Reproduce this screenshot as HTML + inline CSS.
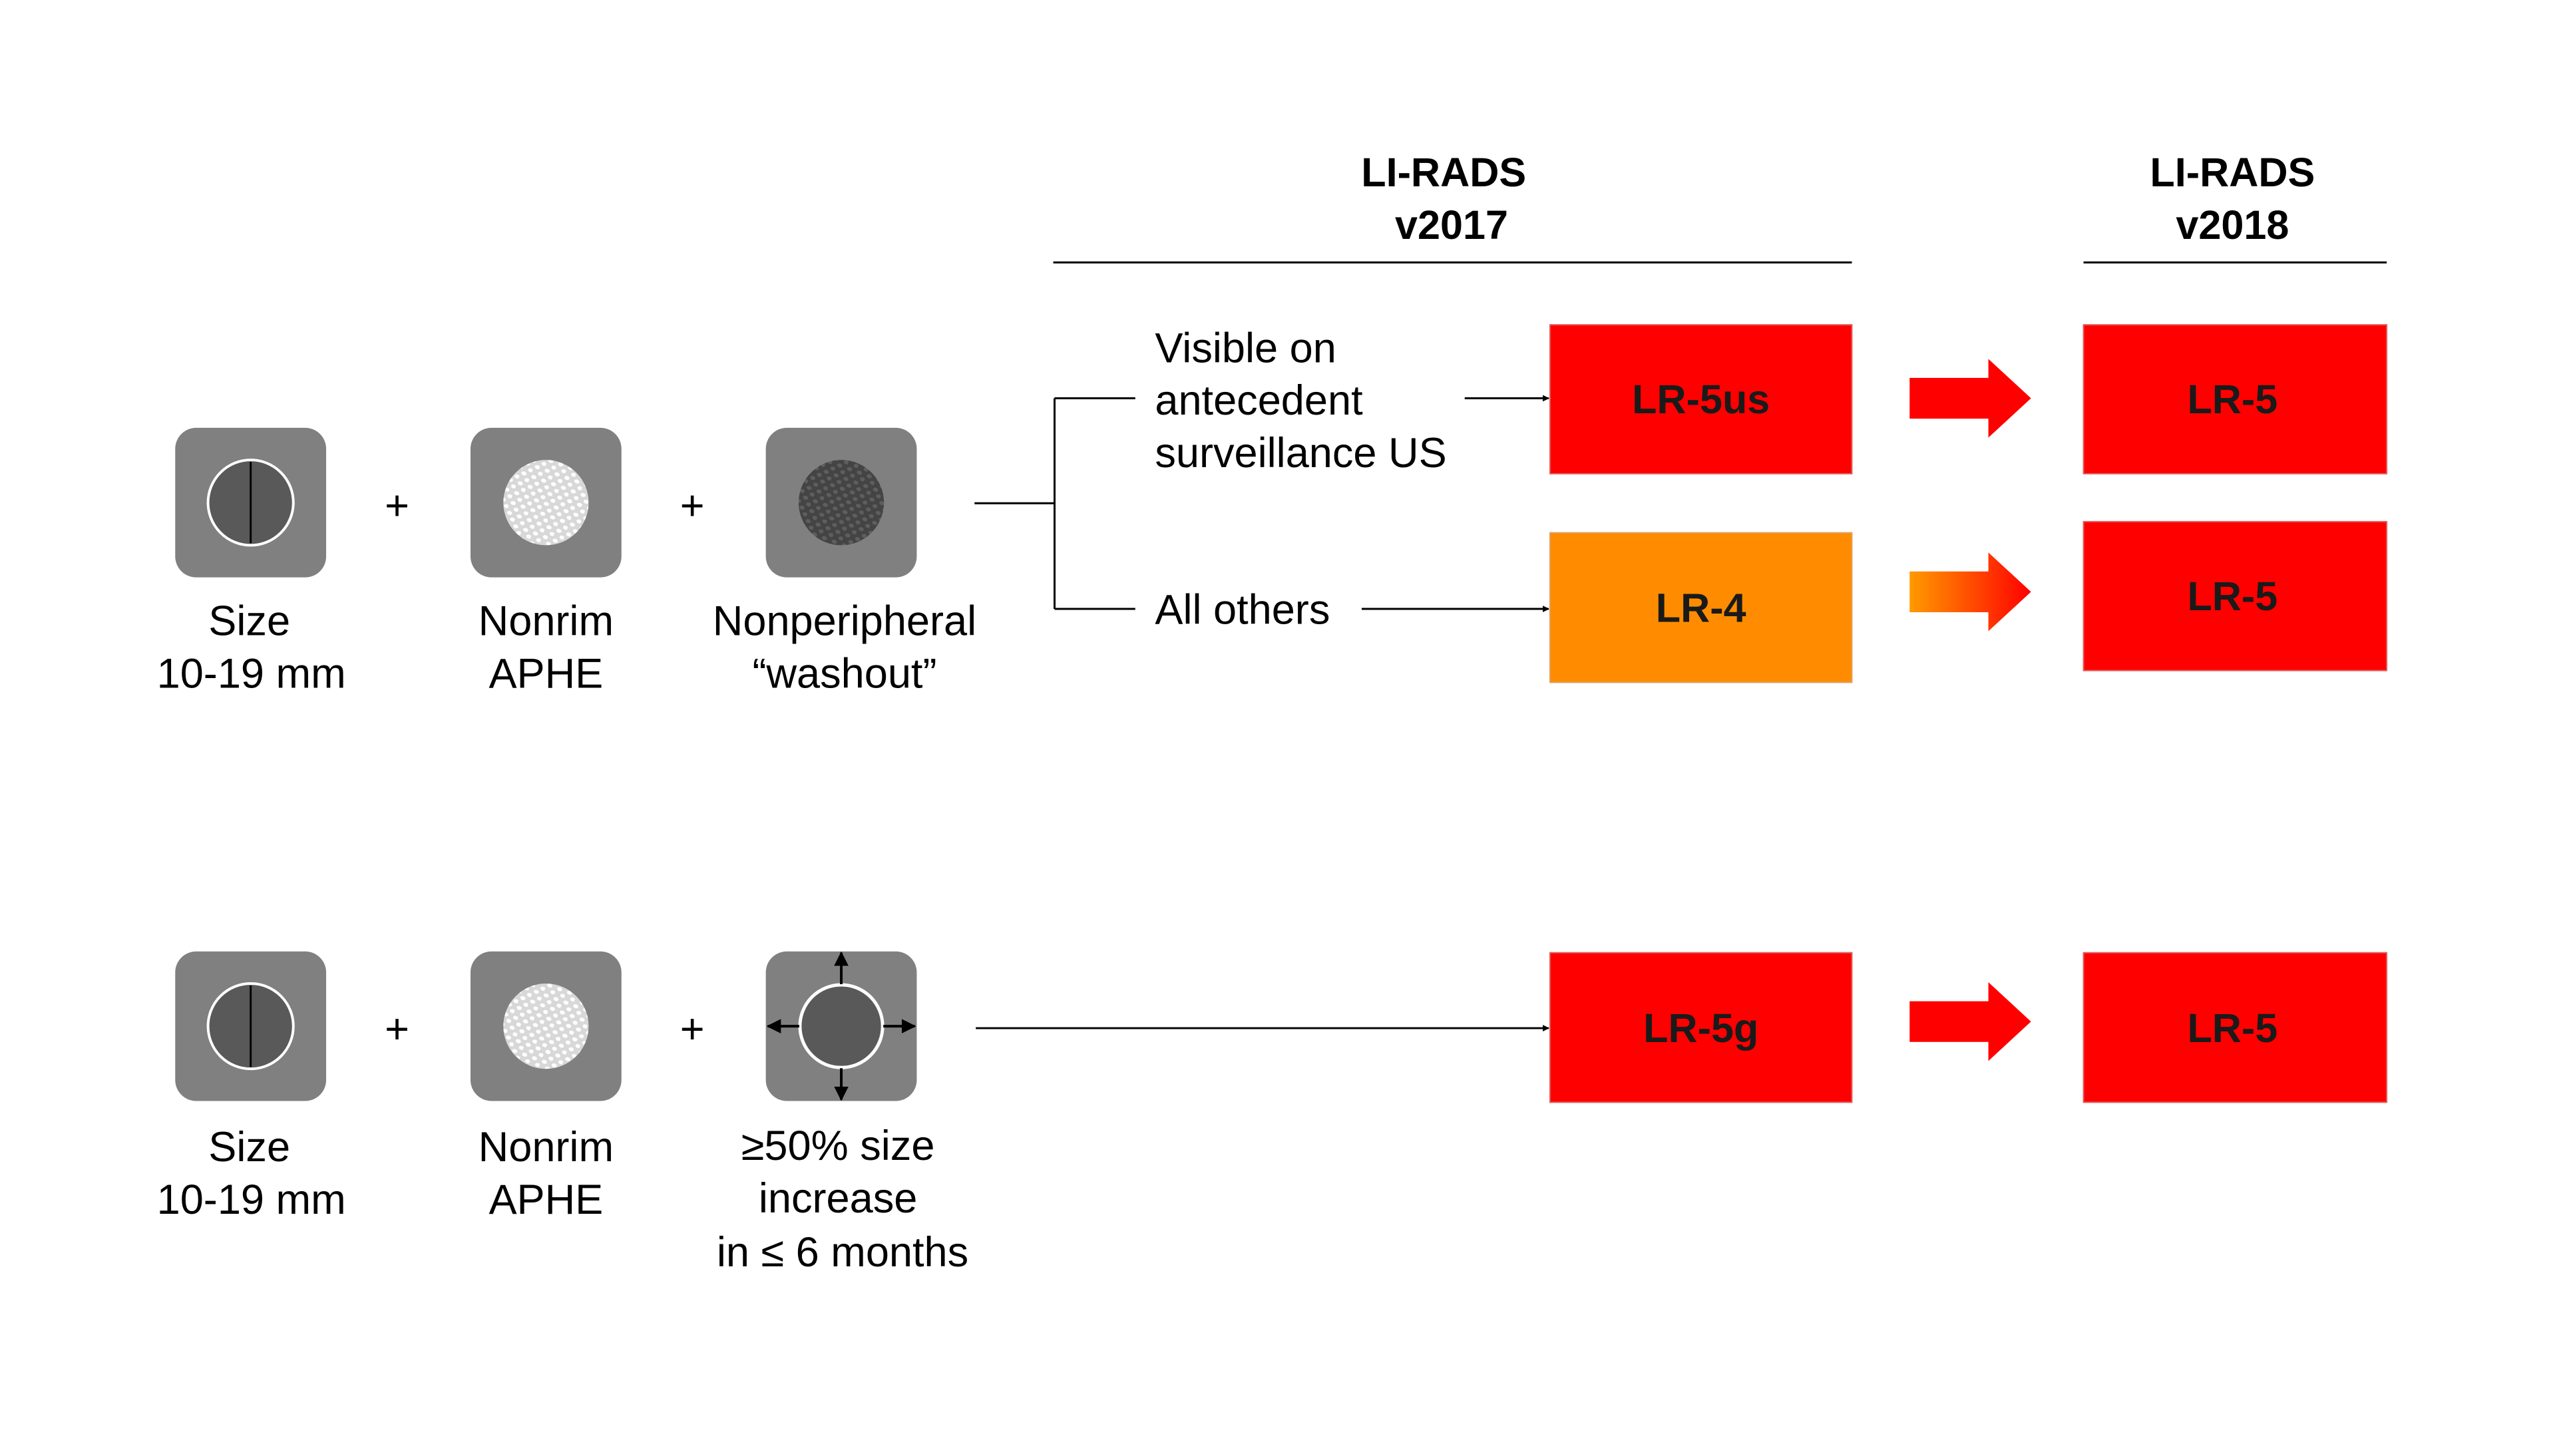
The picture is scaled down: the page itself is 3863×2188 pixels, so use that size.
<!DOCTYPE html>
<html><head><meta charset="utf-8"><style>
body{margin:0;background:#fff;}
svg{display:block}
text{font-family:"Liberation Sans",Arial,sans-serif;}
</style></head><body>
<svg width="3863" height="2188" viewBox="0 0 3863 2188" xmlns="http://www.w3.org/2000/svg">
<defs>
<pattern id="dw" width="16" height="16" patternUnits="userSpaceOnUse" patternTransform="rotate(20)">
<rect width="16" height="16" fill="#d8d8d8"/><ellipse cx="5" cy="5" rx="4" ry="3" fill="#fff"/><ellipse cx="13" cy="13" rx="4" ry="3" fill="#fff"/></pattern>
<pattern id="dd" width="16" height="16" patternUnits="userSpaceOnUse" patternTransform="rotate(20)">
<rect width="16" height="16" fill="#444"/><ellipse cx="5" cy="5" rx="4" ry="3" fill="#5e5e5e"/><ellipse cx="13" cy="13" rx="4" ry="3" fill="#5e5e5e"/></pattern>
<linearGradient id="og" x1="0" x2="1"><stop offset="0" stop-color="#ff9a00"/><stop offset="1" stop-color="#ff0000"/></linearGradient>
<marker id="ah" markerWidth="10" markerHeight="10" refX="9" refY="5" orient="auto" markerUnits="userSpaceOnUse"><path d="M0,0 L10,5 L0,10z" fill="#000"/></marker>
<marker id="ab" markerWidth="22" markerHeight="22" refX="20" refY="11" orient="auto" markerUnits="userSpaceOnUse"><path d="M0,0 L22,11 L0,22z" fill="#000"/></marker>
</defs>
<g transform="scale(0.986)">
<g font-size="64" text-anchor="middle" fill="#000">
<rect x="267" y="652" width="230" height="228" rx="32" fill="#808080"/>
<ellipse cx="382" cy="766" rx="65" ry="65" fill="#595959" stroke="#fff" stroke-width="4"/>
<line x1="382" y1="704" x2="382" y2="828" stroke="#000" stroke-width="3"/>
<rect x="717" y="652" width="230" height="228" rx="32" fill="#808080"/>
<circle cx="832" cy="766" r="65" fill="url(#dw)"/>
<rect x="1167" y="652" width="230" height="228" rx="32" fill="#808080"/>
<circle cx="1282" cy="766" r="65" fill="url(#dd)"/>
<text x="605" y="792" font-size="64">+</text>
<text x="1055" y="792" font-size="64">+</text>
<text x="380" y="968">Size</text><text x="383" y="1048">10-19 mm</text>
<text x="832" y="968">Nonrim</text><text x="832" y="1048">APHE</text>
<text x="1287" y="968">Nonperipheral</text><text x="1287" y="1048">“washout”</text>
<rect x="267" y="1450" width="230" height="228" rx="32" fill="#808080"/>
<ellipse cx="382" cy="1564" rx="65" ry="65" fill="#595959" stroke="#fff" stroke-width="4"/>
<line x1="382" y1="1502" x2="382" y2="1626" stroke="#000" stroke-width="3"/>
<rect x="717" y="1450" width="230" height="228" rx="32" fill="#808080"/>
<circle cx="832" cy="1564" r="65" fill="url(#dw)"/>
<rect x="1167" y="1450" width="230" height="228" rx="32" fill="#808080"/>
<circle cx="1282" cy="1564" r="63" fill="#595959" stroke="#fff" stroke-width="5"/>
<g stroke="#000" stroke-width="4">
<line x1="1282" y1="1500" x2="1282" y2="1452" marker-end="url(#ab)"/>
<line x1="1282" y1="1628" x2="1282" y2="1676" marker-end="url(#ab)"/>
<line x1="1218" y1="1564" x2="1170" y2="1564" marker-end="url(#ab)"/>
<line x1="1346" y1="1564" x2="1394" y2="1564" marker-end="url(#ab)"/>
</g>
<text x="605" y="1590" font-size="64">+</text>
<text x="1055" y="1590" font-size="64">+</text>
<text x="380" y="1770">Size</text><text x="383" y="1850">10-19 mm</text>
<text x="832" y="1770">Nonrim</text><text x="832" y="1850">APHE</text>
<text x="1277" y="1768">≥50% size</text><text x="1277" y="1848">increase</text><text x="1284" y="1930">in ≤ 6 months</text>
<g font-weight="bold" font-size="62">
<text x="2200" y="284">LI-RADS</text><text x="2212" y="364">v2017</text>
<text x="3402" y="284">LI-RADS</text><text x="3402" y="364">v2018</text>
</g>
<line x1="1605" y1="400" x2="2822" y2="400" stroke="#000" stroke-width="3"/>
<line x1="3175" y1="400" x2="3637" y2="400" stroke="#000" stroke-width="3"/>
<g stroke="#000" stroke-width="3" fill="none">
<path d="M1485 767 H1607 M1607 607 V928 M1607 607 H1730 M1607 928 H1730"/>
<line x1="2232" y1="607" x2="2360" y2="607" marker-end="url(#ah)"/>
<line x1="2075" y1="928" x2="2360" y2="928" marker-end="url(#ah)"/>
<line x1="1487" y1="1567" x2="2360" y2="1567" marker-end="url(#ah)"/>
</g>
<g text-anchor="start">
<text x="1760" y="552">Visible on</text><text x="1760" y="632">antecedent</text><text x="1760" y="712">surveillance US</text>
<text x="1760" y="951">All others</text>
</g>
<rect x="2362" y="495" width="460" height="227" fill="#ff0000" stroke="#e06060" stroke-width="2"/>
<rect x="2362" y="812" width="460" height="228" fill="#ff8c00" stroke="#e0a060" stroke-width="2"/>
<rect x="2362" y="1452" width="460" height="228" fill="#ff0000" stroke="#e06060" stroke-width="2"/>
<rect x="3175" y="495" width="462" height="227" fill="#ff0000" stroke="#e06060" stroke-width="2"/>
<rect x="3175" y="795" width="462" height="227" fill="#ff0000" stroke="#e06060" stroke-width="2"/>
<rect x="3175" y="1452" width="462" height="228" fill="#ff0000" stroke="#e06060" stroke-width="2"/>
<g font-weight="bold" font-size="62" fill="#1a1a1a">
<text x="2592" y="630">LR-5us</text>
<text x="2592" y="948">LR-4</text>
<text x="2592" y="1588">LR-5g</text>
<text x="3402" y="630">LR-5</text>
<text x="3402" y="930">LR-5</text>
<text x="3402" y="1588">LR-5</text>
</g>
<path d="M2910 576 H3030 V547 L3095 607 L3030 667 V638 H2910Z" fill="#ff0000"/>
<path d="M2910 871 H3030 V842 L3095 902 L3030 962 V933 H2910Z" fill="url(#og)"/>
<path d="M2910 1526 H3030 V1497 L3095 1557 L3030 1617 V1588 H2910Z" fill="#ff0000"/>
</g>
</g>
</svg>
</body></html>
